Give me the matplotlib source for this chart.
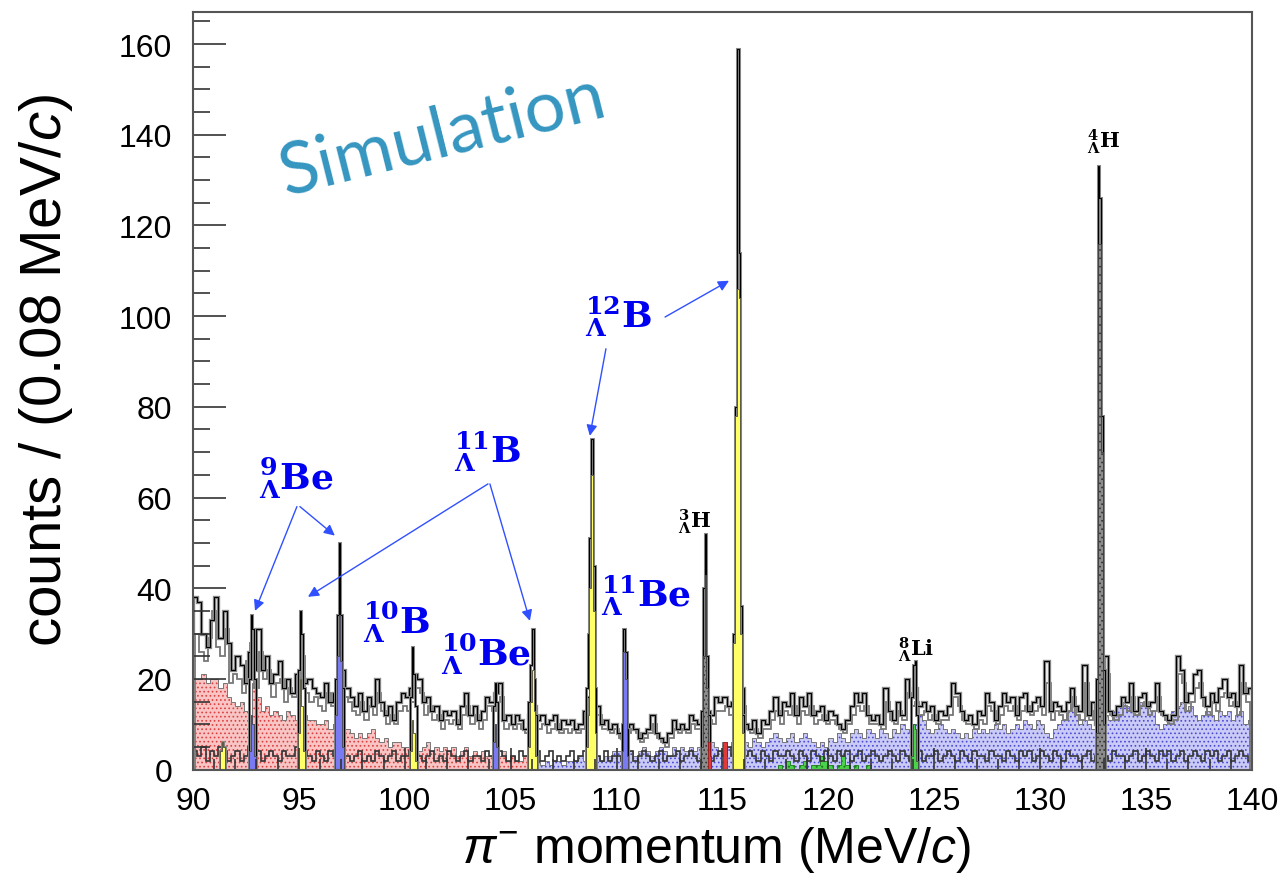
import numpy as np
import matplotlib.pyplot as plt
from matplotlib.ticker import MultipleLocator

plt.rcParams['font.family'] = ['Liberation Sans', 'DejaVu Sans']
plt.rcParams['mathtext.fontset'] = 'custom'
plt.rcParams['mathtext.rm'] = 'Liberation Sans'
plt.rcParams['mathtext.it'] = 'Liberation Sans:italic'
plt.rcParams['mathtext.bf'] = 'Liberation Sans:bold'
plt.rcParams['hatch.linewidth'] = 0.7

# ---- data ----
x_lo, x_hi = 90.0, 140.0
coarse_w = 0.2     # background drawn in 0.2 MeV steps
fine_w = 0.08      # peaks in 0.08 MeV bins

# total background outline, 90 -> 140 MeV
bg_total = [
    38, 37, 30, 27, 33, 38, 29, 35, 28, 22,   # 90
    25, 23, 19, 26, 22, 31, 22, 25, 19, 21,   # 92
    24, 18, 20, 17, 21, 22, 19, 20, 18, 17,   # 94
    16, 19, 15, 17, 20, 22, 18, 16, 14, 17,   # 96
    13, 16, 14, 20, 15, 12, 14, 11, 15, 17,   # 98
    16, 18, 21, 20, 15, 16, 13, 14, 11, 13,   # 100
    12, 13, 10, 14, 17, 12, 14, 11, 13, 16,   # 102
    15, 17, 19, 11, 12, 10, 12, 11, 9, 12,    # 104
    14, 11, 12, 10, 11, 12, 9, 11, 10, 11,    # 106
    9, 10, 13, 16, 18, 14, 10, 11, 9, 10,     # 108
    8, 7, 9, 10, 9, 7, 8, 9, 12, 8,           # 110
    7, 6, 8, 11, 9, 10, 9, 12, 11, 10,        # 112
    12, 13, 12, 16, 15, 16, 14, 15, 20, 18,   # 114
    10, 9, 11, 8, 11, 10, 13, 16, 12, 15,     # 116
    14, 17, 12, 16, 14, 17, 12, 13, 14, 11,   # 118
    13, 12, 10, 9, 11, 14, 17, 15, 17, 12,    # 120
    11, 12, 10, 18, 13, 11, 15, 12, 20, 16,   # 122
    18, 14, 15, 13, 14, 11, 13, 12, 14, 19,   # 124
    17, 13, 11, 12, 10, 13, 12, 17, 15, 11,   # 126
    14, 17, 15, 16, 12, 16, 17, 13, 15, 16,   # 128
    14, 24, 13, 15, 14, 13, 15, 18, 14, 13,   # 130
    23, 12, 15, 10, 20, 25, 13, 12, 14, 16,   # 132
    15, 19, 13, 16, 17, 14, 15, 19, 13, 12,   # 134
    11, 12, 25, 22, 15, 17, 21, 22, 16, 14,   # 136
    17, 15, 18, 20, 16, 17, 14, 23, 17, 18,   # 138
]

# a second overlaid outline, shifted half a step (90.1 -> 139.9 MeV)
other_start = 90.1
bg_other = [
    30, 26, 24, 29, 35, 27, 25, 31, 19, 21,
    20, 17, 24, 28, 18, 26, 20, 22, 16, 19,
    20, 15, 18, 16, 19, 25, 17, 15, 16, 14,
    13, 17, 14, 19, 26, 16, 15, 13, 12, 15,
    11, 14, 12, 17, 13, 10, 12, 10, 13, 14,
    13, 15, 18, 17, 12, 14, 11, 12, 9, 11,
    10, 11, 9, 12, 14, 10, 12, 9, 11, 14,
    13, 15, 16, 9, 10, 9, 10, 9, 8, 10,
    12, 9, 10, 8, 9, 10, 8, 9, 8, 9,
    8, 9, 11, 14, 15, 12, 9, 9, 8, 9,
    7, 6, 8, 9, 8, 6, 7, 8, 10, 7,
    6, 5, 7, 9, 8, 9, 8, 10, 9, 9,
    10, 11, 10, 13, 13, 14, 12, 13, 16, 14,
    9, 8, 9, 7, 9, 9, 11, 13, 10, 13,
    12, 14, 10, 13, 12, 14, 10, 11, 12, 10,
    11, 10, 9, 8, 10, 12, 14, 13, 14, 10,
    10, 10, 9, 15, 11, 10, 13, 11, 17, 14,
    15, 12, 13, 11, 12, 10, 11, 11, 12, 16,
    14, 11, 10, 10, 9, 11, 10, 14, 13, 10,
    12, 14, 13, 14, 11, 13, 14, 12, 13, 14,
    12, 19, 11, 13, 12, 11, 13, 16, 12, 11,
    19, 11, 13, 9, 17, 21, 12, 11, 12, 14,
    13, 16, 12, 14, 15, 12, 13, 16, 12, 11,
    10, 11, 21, 19, 13, 15, 18, 19, 14, 12,
    15, 13, 16, 17, 14, 15, 12, 19, 15,
]

# pink (quasi-free / background) component, 90 -> 106 MeV
bg_red = [
    20, 20, 21, 19, 20, 20, 18, 19, 16, 15,
    14, 15, 13, 12, 19, 16, 13, 14, 12, 13,
    12, 11, 13, 12, 11, 10, 12, 11, 11, 10,
    10, 11, 9, 10, 8, 9, 9, 8, 7, 8,
    7, 8, 9, 7, 6, 7, 5, 6, 6, 5,
    5, 6, 5, 4, 5, 6, 4, 5, 4, 5,
    4, 5, 3, 4, 5, 3, 4, 3, 4, 3,
    3, 2, 3, 4, 2, 3, 2, 2, 3, 2,
]
red_start = 90.0

# lavender component, 106 -> 140 MeV
bg_blue = [
    1, 2, 1, 2, 1, 2, 2, 1, 2, 2,
    2, 3, 2, 3, 2, 3, 2, 3, 3, 4,
    4, 3, 5, 4, 3, 4, 5, 4, 3, 4,
    5, 4, 3, 5, 4, 5, 4, 5, 4, 5,
    4, 5, 6, 5, 4, 6, 5, 6, 5, 6,
    6, 5, 7, 6, 5, 6, 7, 8, 7, 6,
    7, 8, 6, 7, 8, 7, 6, 5, 6, 5,
    7, 6, 8, 7, 6, 8, 9, 8, 7, 9,
    8, 7, 9, 8, 7, 9, 8, 10, 9, 8,
    10, 12, 11, 9, 8, 9, 10, 9, 8, 9,
    8, 7, 8, 7, 9, 8, 9, 8, 9, 10,
    9, 10, 8, 9, 10, 9, 11, 10, 9, 11,
    10, 8, 7, 9, 10, 11, 13, 15, 12, 10,
    11, 10, 9, 11, 10, 12, 11, 13, 14, 15,
    14, 13, 12, 15, 14, 15, 13, 10, 9, 10,
    11, 13, 14, 15, 13, 14, 12, 11, 12, 13,
    12, 11, 13, 12, 13, 11, 12, 13, 10, 11,
]
blue_start = 106.0

# low-count band along the bottom, 90 -> 140 MeV
bg_low = [
    4, 3, 5, 2, 4, 3, 5, 4, 2, 3,
    4, 2, 3, 5, 3, 4, 2, 3, 4, 3,
    2, 4, 3, 3, 5, 2, 4, 3, 2, 4,
    3, 2, 4, 3, 2, 5, 3, 2, 3, 4,
    2, 3, 2, 4, 3, 2, 3, 4, 2, 3,
    3, 4, 2, 3, 2, 3, 4, 2, 3, 2,
    4, 3, 2, 3, 4, 2, 3, 3, 2, 4,
    3, 2, 4, 3, 2, 3, 2, 4, 3, 2,
    3, 4, 2, 3, 4, 2, 3, 2, 3, 4,
    2, 3, 4, 2, 3, 3, 2, 4, 2, 3,
    3, 2, 3, 4, 2, 3, 4, 3, 2, 3,
    4, 2, 3, 3, 4, 2, 3, 4, 3, 2,
    3, 4, 2, 3, 4, 3, 5, 3, 4, 2,
    3, 4, 3, 2, 4, 3, 2, 4, 3, 3,
    4, 3, 2, 4, 3, 2, 4, 3, 2, 4,
    3, 2, 4, 3, 4, 2, 3, 4, 2, 3,
    4, 3, 2, 3, 4, 3, 2, 4, 3, 2,
    3, 4, 2, 3, 3, 4, 2, 3, 4, 3,
    2, 4, 3, 2, 4, 3, 3, 2, 4, 3,
    3, 2, 4, 3, 2, 4, 3, 4, 2, 3,
    4, 3, 2, 4, 3, 2, 4, 3, 3, 2,
    3, 4, 2, 3, 4, 3, 2, 4, 3, 3,
    2, 3, 4, 2, 3, 4, 3, 2, 4, 3,
    4, 2, 3, 4, 2, 3, 4, 3, 2, 4,
    3, 4, 2, 3, 4, 2, 3, 4, 3, 2,
]

green_low_start = 117.6
green_low = [1, 0, 2, 1, 0, 1, 2, 0, 1, 1, 3, 2, 1, 0, 1, 3, 1, 0, 1, 0, 0, 1, 0]

# peaks: first bin edge, total counts, coloured component counts
y91_start, y91_tot, y91_fill = 91.28, [4, 6, 5], [4, 6, 5]
be9a_start, be9a_tot, be9a_fill = 92.64, [20, 34, 31, 20], [4, 12, 10, 3]
b11a_start, b11a_tot, b11a_fill = 94.96, [22, 35, 30, 18], [8, 20, 14, 4]
be9b_start, be9b_tot, be9b_fill = 96.72, [20, 34, 50, 34, 18], [12, 25, 34, 24, 5]
b10_start, b10_tot, b10_fill = 100.24, [16, 27, 21, 14], [4, 11, 8, 2]
be10_start, be10_tot, be10_fill = 104.16, [14, 19, 15], [6, 10, 5]
b11b_start, b11b_tot, b11b_fill = 105.84, [15, 23, 31, 20, 12], [5, 15, 22, 13, 3]
b12a_start, b12a_tot, b12a_fill = 108.56, [18, 30, 51, 73, 45, 18], [5, 12, 40, 65, 35, 8]
be11_start, be11_tot, be11_fill = 110.24, [10, 31, 26, 9], [4, 26, 20, 3]
h3_start, h3_tot, h3_fill = 114.00, [13, 40, 52, 25, 12], [5, 25, 43, 18, 4]
red1_start, red1_fill = 114.32, [6, 3]
red2_start, red2_fill = 115.04, [6, 6]
b12b_start, b12b_tot, b12b_fill = 115.52, [30, 80, 159, 114, 36, 12], [28, 78, 106, 104, 30, 8]
li8_start, li8_tot, li8_fill = 123.92, [16, 23, 24, 12], [3, 10, 9, 2]
h4_start, h4_tot, h4_fill = 132.64, [20, 133, 126, 78, 22], [8, 116, 116, 70, 10]

yellow = '#ffff66'
violet = '#7a7af2'
grey = '#8c8c8c'
green = '#4ad24a'
red = '#e03a3a'

peaks = [
    (y91_start, y91_tot, y91_fill, yellow),
    (be9a_start, be9a_tot, be9a_fill, violet),
    (b11a_start, b11a_tot, b11a_fill, yellow),
    (be9b_start, be9b_tot, be9b_fill, violet),
    (b10_start, b10_tot, b10_fill, yellow),
    (be10_start, be10_tot, be10_fill, violet),
    (b11b_start, b11b_tot, b11b_fill, yellow),
    (b12a_start, b12a_tot, b12a_fill, yellow),
    (be11_start, be11_tot, be11_fill, violet),
    (h3_start, h3_tot, h3_fill, grey),
    (b12b_start, b12b_tot, b12b_fill, yellow),
    (li8_start, li8_tot, li8_fill, green),
    (h4_start, h4_tot, h4_fill, grey),
]


def edges(start, n, w):
    return start + w * np.arange(n + 1)


fig = plt.figure(figsize=(12.88, 8.79), dpi=100)
ax = fig.add_axes([0.1498, 0.1233, 0.8222, 0.8616])

# background components
e_red = edges(red_start, len(bg_red), coarse_w)
e_blue = edges(blue_start, len(bg_blue), coarse_w)
ax.stairs(bg_red, e_red, fill=True, facecolor='#f8c4c4', edgecolor='#dc4040',
          hatch='....', lw=0)
ax.stairs(bg_blue, e_blue, fill=True, facecolor='#cacaf6', edgecolor='#4a4ad6',
          hatch='....', lw=0)
ax.stairs(bg_red, e_red, fill=False, color='#777777', lw=0.7)
ax.stairs(bg_blue, e_blue, fill=False, color='#777777', lw=0.7)
ax.stairs(green_low, edges(green_low_start, len(green_low), coarse_w), fill=True,
          facecolor=green, edgecolor='#1a7a1a', hatch='...', lw=0.6)
ax.stairs(bg_low, edges(x_lo, len(bg_low), coarse_w), fill=False,
          color='#333333', lw=1.2)

# overlaid outlines: grey under black, like the ROOT histograms drawn "same"
ax.stairs(bg_other, edges(other_start, len(bg_other), coarse_w), fill=False,
          color='#777777', lw=1.3)
e_tot = edges(x_lo, len(bg_total), coarse_w)
ax.stairs(bg_total, e_tot, fill=False, color='#8a8a8a', lw=2.4)
ax.stairs(bg_total, e_tot, fill=False, color='black', lw=0.8)

for start, tot, part, col in peaks:
    e = edges(start, len(tot), fine_w)
    ax.stairs(tot, e, fill=False, color='#8a8a8a', lw=2.2)
    ax.stairs(tot, e, fill=False, color='black', lw=0.8)
    hatch = '....' if col in (grey, violet) else None
    ax.stairs(part, e, fill=True, facecolor=col, edgecolor='#333333' if col == grey else col,
              hatch=hatch, lw=0.5)
    ax.stairs(part, e, fill=False, color='#444444', lw=0.6)

for start, part in [(red1_start, red1_fill), (red2_start, red2_fill)]:
    ax.stairs(part, edges(start, len(part), fine_w), fill=True,
              facecolor=red, edgecolor='#991111', lw=0.5)

ax.set_xlim(x_lo, x_hi)
ax.set_ylim(0, 167)
ax.set_xticks(np.arange(90, 141, 5))
ax.set_yticks(np.arange(0, 161, 20))
ax.xaxis.set_minor_locator(MultipleLocator(1))
ax.yaxis.set_minor_locator(MultipleLocator(5))
ax.tick_params(axis='y', which='major', direction='in', length=23.8, width=1.2,
               labelsize=23, pad=15, colors='#333333', labelcolor='black')
ax.tick_params(axis='y', which='minor', direction='in', length=12, width=1.2, colors='#333333')
ax.tick_params(axis='x', which='major', direction='in', length=16, width=1.2,
               labelsize=23, pad=12, colors='#333333', labelcolor='black')
ax.tick_params(axis='x', which='minor', direction='in', length=8, width=1.2, colors='#333333')
for s in ax.spines.values():
    s.set_color('#555555')
    s.set_linewidth(1.5)

fig.text(46 / 1288, 1 - 370 / 879, 'counts / (0.08 MeV/$c$)', rotation=90,
         fontsize=42, ha='center', va='center')
fig.text(717 / 1288, 1 - 850 / 879, r'$\pi^{-}$ momentum (MeV/$c$)',
         fontsize=36, ha='center', va='center')

ax.text(101.76, 140.2, 'Simulation', fontsize=52, color='#3596c0', family='Lato',
        rotation=14, rotation_mode='anchor', ha='center', va='center')

blue = '#0000f0'
big = [
    (r'${}^{\mathbf{12}}_{\mathbf{\Lambda}}\mathbf{B}$', 110.07, 100.2),
    (r'${}^{\mathbf{11}}_{\mathbf{\Lambda}}\mathbf{B}$', 103.93, 70.3),
    (r'${}^{\mathbf{9}}_{\mathbf{\Lambda}}\mathbf{Be}$', 94.86, 64.5),
    (r'${}^{\mathbf{10}}_{\mathbf{\Lambda}}\mathbf{B}$', 99.63, 32.8),
    (r'${}^{\mathbf{10}}_{\mathbf{\Lambda}}\mathbf{Be}$', 103.83, 25.7),
    (r'${}^{\mathbf{11}}_{\mathbf{\Lambda}}\mathbf{Be}$', 111.39, 38.7),
]
for s, x, y in big:
    ax.text(x, y, s, fontsize=26, color=blue, ha='center', va='center',
            math_fontfamily='dejavuserif')

small = [
    (r'${}^{\mathbf{3}}_{\mathbf{\Lambda}}\mathbf{H}$', 113.70, 54.8),
    (r'${}^{\mathbf{8}}_{\mathbf{\Lambda}}\mathbf{Li}$', 124.14, 26.6),
    (r'${}^{\mathbf{4}}_{\mathbf{\Lambda}}\mathbf{H}$', 133.01, 138.7),
]
for s, x, y in small:
    ax.text(x, y, s, fontsize=15, color='black', ha='center', va='center',
            math_fontfamily='dejavuserif')

arrows = [
    ((109.50, 92.8), (108.74, 73.6)),
    ((112.29, 99.8), (115.31, 107.8)),
    ((103.93, 63.0), (95.43, 38.1)),
    ((104.02, 63.0), (105.91, 32.8)),
    ((94.91, 58.0), (92.93, 35.0)),
    ((95.05, 58.0), (96.70, 51.6)),
]
for (x0, y0), (x1, y1) in arrows:
    ax.annotate('', xy=(x1, y1), xytext=(x0, y0),
                arrowprops=dict(arrowstyle='-|>', color='#3050ff', lw=1.0,
                                mutation_scale=16, shrinkA=0, shrinkB=0))

fig.savefig('out.png', dpi=100)
